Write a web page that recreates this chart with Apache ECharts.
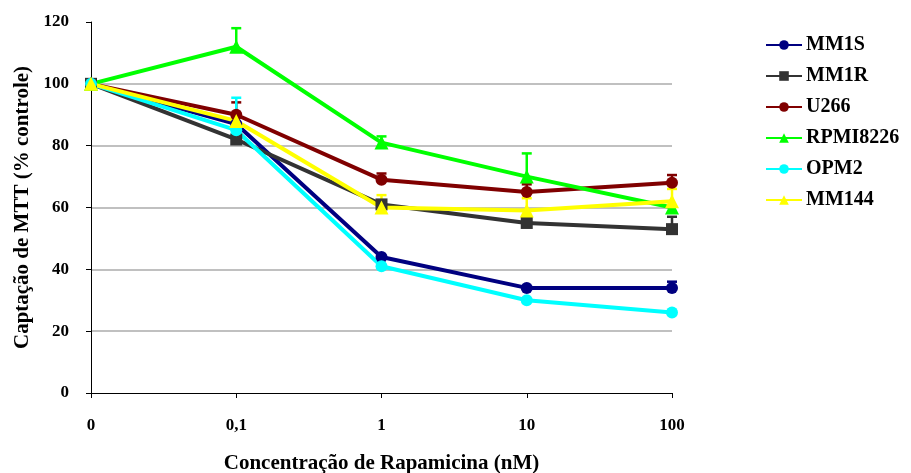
<!DOCTYPE html>
<html><head><meta charset="utf-8">
<script src="https://cdn.jsdelivr.net/npm/echarts@6/dist/echarts.min.js"></script>
<style>html,body{margin:0;padding:0;background:#fff}#c{width:911px;height:473px}</style>
</head><body><div id="c"></div>
<script>
var categories = ['0', '0,1', '1', '10', '100'];
var yTicks = [0, 20, 40, 60, 80, 100, 120];
var MM1S = [100, 87, 44, 34, 34];
var MM1R = [100, 82, 61, 55, 53];
var U266 = [100, 90, 69, 65, 68];
var RPMI8226 = [100, 112, 81, 70, 60];
var OPM2 = [100, 85, 41, 30, 26];
var MM144 = [100, 88, 60, 59, 62];
// upper error bar tops (null = none visible)
var MM1S_err = [null, null, null, null, 36];
var MM1R_err = [null, null, null, null, 57];
var U266_err = [null, 94, 71, 67.5, 70.5];
var RPMI8226_err = [null, 118, 83, 77.5, null];
var OPM2_err = [null, 95.5, null, null, null];
var MM144_err = [null, null, 64, 63, 66];

var defs = [
  {name: 'MM1S', data: MM1S, err: MM1S_err, color: '#000080', symbol: 'circle'},
  {name: 'MM1R', data: MM1R, err: MM1R_err, color: '#333333', symbol: 'rect'},
  {name: 'U266', data: U266, err: U266_err, color: '#800000', symbol: 'circle'},
  {name: 'RPMI8226', data: RPMI8226, err: RPMI8226_err, color: '#00FF00', symbol: 'triangle'},
  {name: 'OPM2', data: OPM2, err: OPM2_err, color: '#00FFFF', symbol: 'circle'},
  {name: 'MM144', data: MM144, err: MM144_err, color: '#FFFF00', symbol: 'triangle'}
];
var font = 'Liberation Serif';
var series = [];
defs.forEach(function (d) {
  var ed = [];
  d.err.forEach(function (t, i) { if (t != null) ed.push([i, d.data[i], t]); });
  series.push({
    type: 'custom', name: d.name + '_err', data: ed, z: 2, silent: true,
    renderItem: function (params, api) {
      var p0 = api.coord([api.value(0), api.value(1)]);
      var p1 = api.coord([api.value(0), api.value(2)]);
      return {type: 'group', children: [
        {type: 'line', shape: {x1: p0[0], y1: p0[1], x2: p1[0], y2: p1[1]}, style: {stroke: d.color, lineWidth: 2.5}},
        {type: 'line', shape: {x1: p1[0] - 5, y1: p1[1], x2: p1[0] + 5, y2: p1[1]}, style: {stroke: d.color, lineWidth: 2.5}}
      ]};
    }
  });
});
defs.forEach(function (d) {
  series.push({
    type: 'line', name: d.name, data: d.data, z: 3,
    symbol: d.symbol, symbolSize: d.symbol === 'triangle' ? 14 : 12,
    showAllSymbol: true,
    lineStyle: {color: d.color, width: 4},
    itemStyle: {color: d.color},
    emphasis: {disabled: true}
  });
});
var chart = echarts.init(document.getElementById('c'));
chart.setOption({
  animation: false,
  grid: {left: 91, right: 239, top: 22, bottom: 80, containLabel: false, outerBoundsMode: 'none'},
  legend: {
    orient: 'vertical', left: 760, top: 30,
    data: defs.map(function (d) { return d.name; }),
    itemWidth: 36, itemHeight: 12, itemGap: 11,
    textStyle: {fontFamily: font, fontWeight: 'bold', fontSize: 20, color: '#000', padding: [0, 0, 0, -1]}
  },
  xAxis: {
    type: 'category', data: categories, boundaryGap: false,
    name: 'Concentração de Rapamicina (nM)', nameLocation: 'middle', nameGap: 60,
    nameTextStyle: {fontFamily: font, fontWeight: 'bold', fontSize: 21, color: '#000'},
    axisLine: {lineStyle: {color: '#000', width: 1}},
    axisTick: {show: true, length: 5, lineStyle: {color: '#000'}, alignWithLabel: true},
    axisLabel: {fontFamily: font, fontWeight: 'bold', fontSize: 17, color: '#000', margin: 24},
    splitLine: {show: false}
  },
  yAxis: {
    type: 'value', min: 0, max: 120, interval: 20,
    name: 'Captação de MTT (% controle)', nameLocation: 'middle', nameGap: 58,
    nameTextStyle: {fontFamily: font, fontWeight: 'bold', fontSize: 21, color: '#000'},
    axisLine: {show: true, lineStyle: {color: '#000', width: 1}},
    axisTick: {show: true, length: 5, lineStyle: {color: '#000'}},
    axisLabel: {fontFamily: font, fontWeight: 'bold', fontSize: 17, color: '#000', margin: 22,
      formatter: function (v) { return yTicks.indexOf(v) >= 0 ? String(v) : ''; }},
    splitLine: {show: true, showMinLine: false, showMaxLine: false, lineStyle: {color: '#c0c0c0', width: 2}}
  },
  series: series
});
</script></body></html>
